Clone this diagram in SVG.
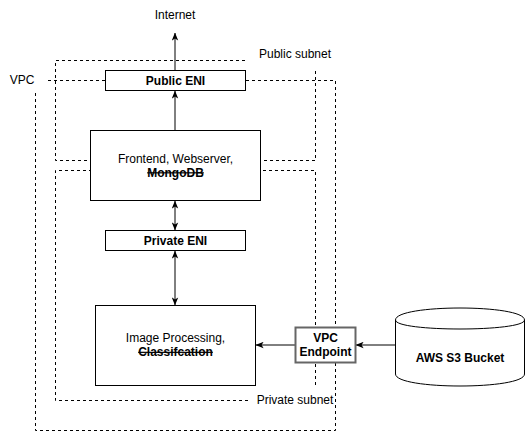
<svg xmlns="http://www.w3.org/2000/svg" width="526" height="431" viewBox="0 0 526 431">
  <style>
    .t { font-family: "Liberation Sans", Arial, sans-serif; font-size: 12px; fill: #000; text-anchor: middle; }
    .b { font-weight: bold; }
    .s { text-decoration: line-through; }
    .dash { fill: none; stroke: #000; stroke-width: 1; stroke-dasharray: 3 3; }
    .box { fill: #fff; stroke: #000; stroke-width: 1; }
    .conn { fill: none; stroke: #000; stroke-width: 1; }
  </style>
  <defs>
    <marker id="arr" viewBox="0 0 10 8" refX="9.5" refY="4" markerWidth="8" markerHeight="7" markerUnits="userSpaceOnUse" orient="auto-start-reverse">
      <path d="M0,0 L10,4 L0,8 L2.5,4 Z" fill="#000"/>
    </marker>
  </defs>
  <rect width="526" height="431" fill="#fff"/>

  <g id="groups">
    <path class="dash" d="M48,80.5 H335.5 V430.5 H35.5 V93"/>
    <path class="dash" d="M245,60.5 H55.5 V160.5 H315.5 V68"/>
    <path class="dash" d="M248,400.5 H55.5 V170.5 H315.5 V385"/>
    <text class="t" x="22" y="84">VPC</text>
    <text class="t" x="295" y="58">Public subnet</text>
    <text class="t" x="295" y="404">Private subnet</text>
  </g>

  <g id="connectors">
    <path class="conn" d="M175,70 V33" marker-end="url(#arr)"/>
    <path class="conn" d="M175,130 V91" marker-end="url(#arr)"/>
    <path class="conn" d="M175,201 V230" marker-start="url(#arr)" marker-end="url(#arr)"/>
    <path class="conn" d="M175,251 V305" marker-start="url(#arr)" marker-end="url(#arr)"/>
    <path class="conn" d="M295,345 H256" marker-end="url(#arr)"/>
    <path class="conn" d="M395,345 H356" marker-end="url(#arr)"/>
  </g>

  <g id="internet">
    <text class="t" x="175" y="19">Internet</text>
  </g>

  <g id="public-eni">
    <rect class="box" x="105.5" y="70.5" width="140" height="20"/>
    <text class="t b" x="175.5" y="84.5">Public ENI</text>
  </g>

  <g id="frontend">
    <rect class="box" x="90.5" y="130.5" width="170" height="70"/>
    <text class="t" x="175.5" y="162.5">Frontend, Webserver,</text>
    <text class="t b s" x="175.5" y="176.5">MongoDB</text>
  </g>

  <g id="private-eni">
    <rect class="box" x="105.5" y="230.5" width="140" height="20"/>
    <text class="t b" x="175.5" y="244.5">Private ENI</text>
  </g>

  <g id="image-processing">
    <rect class="box" x="95.5" y="305.5" width="160" height="80"/>
    <text class="t" x="175.5" y="342">Image Processing,</text>
    <text class="t b s" x="175.5" y="356">Classifcation</text>
  </g>

  <g id="vpc-endpoint">
    <rect x="295.5" y="327.5" width="60" height="35" fill="#fff" stroke="#666" stroke-width="2"/>
    <text class="t b" x="325.5" y="342">VPC</text>
    <text class="t b" x="325.5" y="356">Endpoint</text>
  </g>

  <g id="s3-bucket">
    <path class="box" d="M395.5,320 C395.5,304 524.5,304 524.5,320 L524.5,374 C524.5,390 395.5,390 395.5,374 Z"/>
    <path class="conn" d="M395.5,320 C395.5,332 524.5,332 524.5,320"/>
    <text class="t b" x="460" y="362">AWS S3 Bucket</text>
  </g>
</svg>
